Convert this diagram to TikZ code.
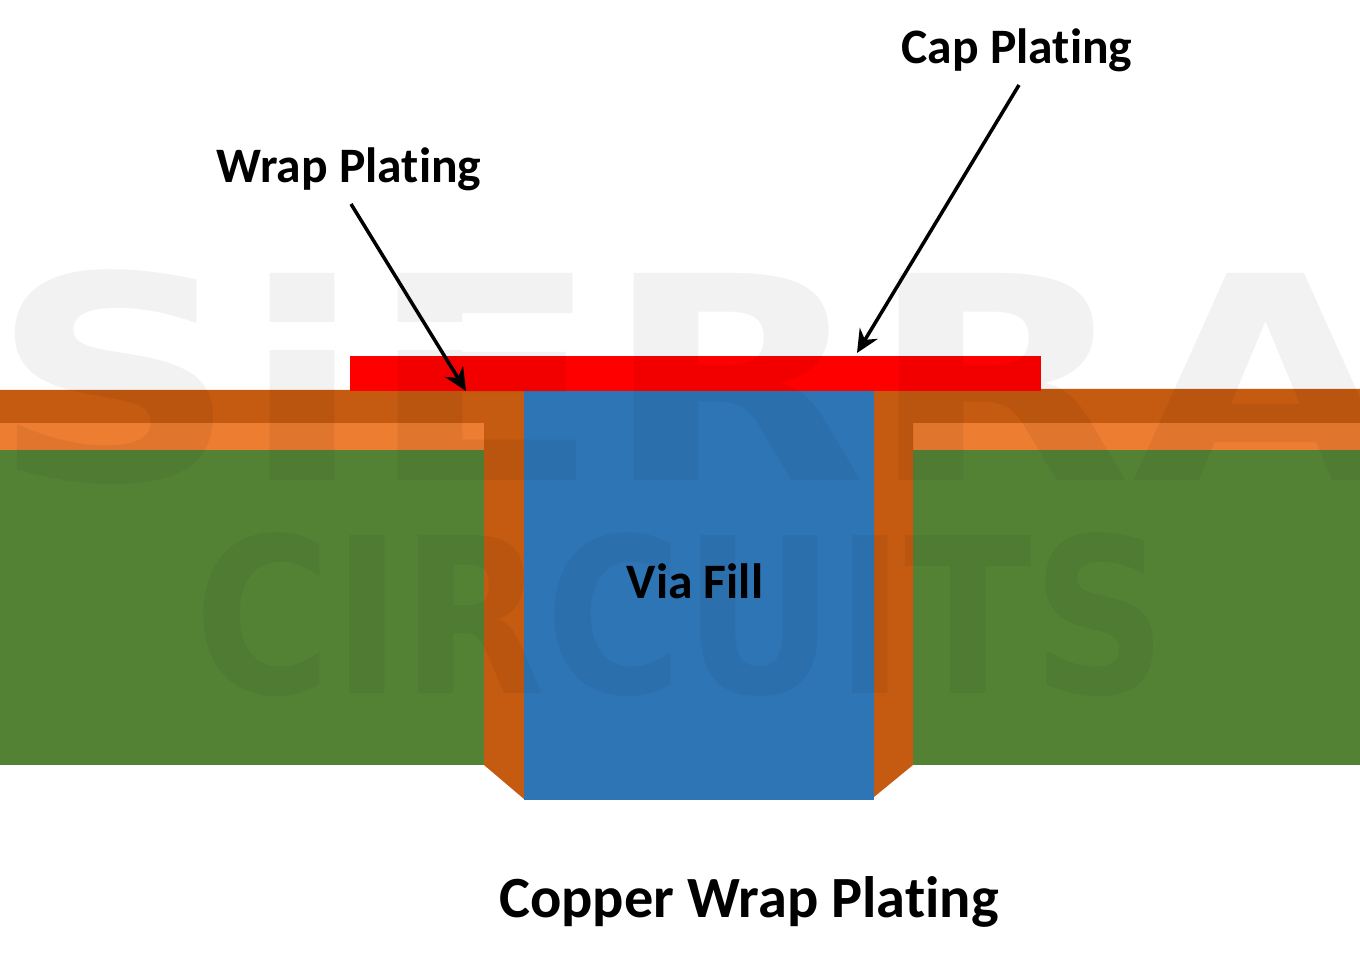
\documentclass[tikz,border=0pt]{standalone}
\usepackage{fontspec}
\setmainfont[Ligatures=NoCommon]{Carlito}
\newfontfamily\markfont{DejaVu Sans}
\usetikzlibrary{arrows.meta}
\definecolor{boardgreen}{HTML}{548235}
\definecolor{foilorange}{HTML}{ED7D31}
\definecolor{wrapcopper}{HTML}{C55A11}
\definecolor{fillblue}{HTML}{2E75B6}
\begin{document}
\begin{tikzpicture}[x=0.01cm,y=-0.01cm]

\tikzset{label/.style={font=\bfseries\fontsize{14.1pt}{14.1pt}\selectfont, inner sep=0pt, text=black},
pointer/.style={line width=1pt, -{Stealth[length=6.5pt,width=6pt]}},
watermark/.style={font=\markfont\bfseries\fontsize{40pt}{40pt}\selectfont, text=black, text opacity=0.05, inner sep=0pt}}

\useasboundingbox (0,0) rectangle (1360,967);

%laminate either side of the via
\fill [boardgreen] (0,450) -- (484,450) -- (484,765) -- (0,765) -- cycle;
\fill [boardgreen] (913,450) -- (1360,450) -- (1360,765) -- (913,765) -- cycle;

\fill [foilorange] (0,423) -- (484,423) -- (484,450) -- (0,450) -- cycle;
\fill [foilorange] (913,423) -- (1360,423) -- (1360,450) -- (913,450) -- cycle;

\fill [wrapcopper] (0,390) -- (524,390) -- (524,799) -- (484,765) -- (484,423) -- (0,423) -- cycle;
\fill [wrapcopper] (1360,389) -- (874,389) -- (874,797) -- (913,765) -- (913,423) -- (1360,423) -- cycle;

\fill [fillblue] (524,391) -- (874,391) -- (874,800) -- (524,800) -- cycle;
\fill [red] (350,356) -- (1041,356) -- (1041,391) -- (350,391) -- cycle;

\begin{scope}
\clip (0,0) rectangle (1360,967);
\node [watermark,xscale=2.45,yscale=2.02] (sierra) at (695,377) {SIERRA};
\node [watermark,xscale=1.33,yscale=1.54] (circuits) at (681,615) {CIRCUITS};
\end{scope}

%gap across the upper letters
\fill [white] (240,322) -- (600,322) -- (600,350) -- (240,350) -- cycle;

\node [label] (wraplabel) at (349,169) {Wrap Plating};
\node [label] (caplabel) at (1017,50) {Cap Plating};
\node [label] (filllabel) at (695,581) {Via Fill};
\node [label,font=\bfseries\fontsize{16.6pt}{16.6pt}\selectfont] (titlelabel) at (749,902) {Copper Wrap Plating};

\coordinate (wrapstart) at (351,204);
\coordinate (wraptip) at (466,391);
\coordinate (capstart) at (1019,85);
\coordinate (captip) at (857,353);

\draw [pointer] (wrapstart) -- (wraptip);
\draw [pointer] (capstart) -- (captip);

\end{tikzpicture}
\end{document}
